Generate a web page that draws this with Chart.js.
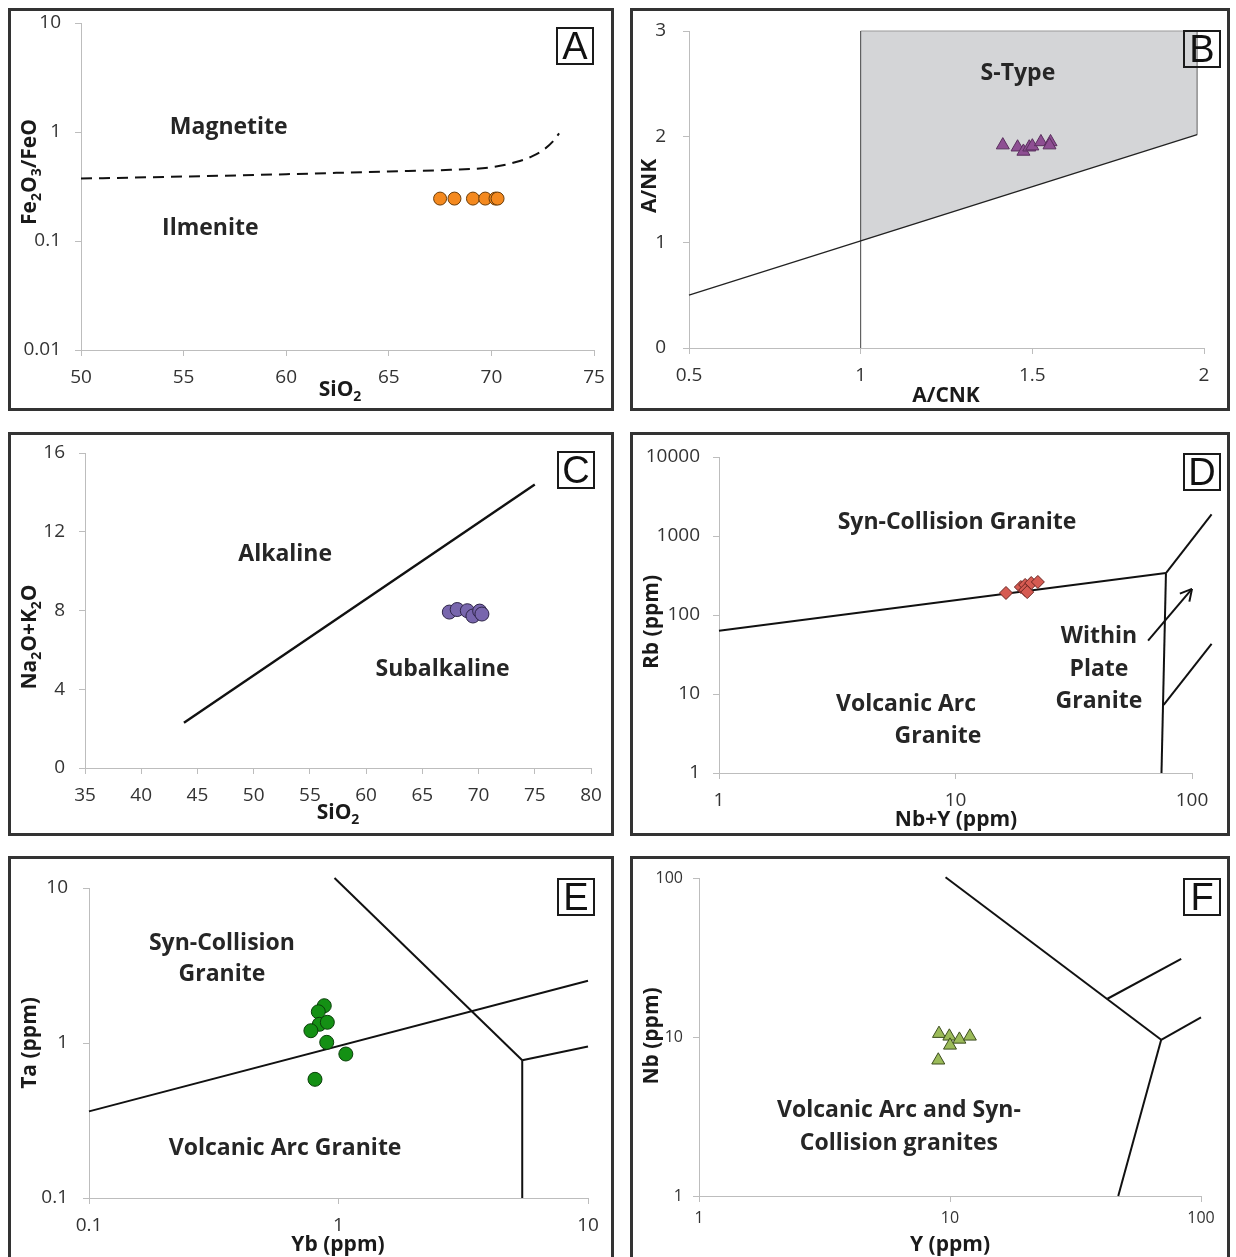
<!DOCTYPE html>
<html>
<head>
<meta charset="utf-8">
<script src="https://cdn.jsdelivr.net/npm/chart.js@4.4.1/dist/chart.umd.min.js"></script>
<style>
  body { margin: 0; background: #fff; width: 1236px; height: 1257px; overflow: hidden; position: relative; }
  .panel { position: absolute; border: 3px solid #333; box-sizing: border-box; }
  .panel canvas { position: absolute; left: 0; top: 0; }
  .tag { position: absolute; width: 38px; height: 38px; box-sizing: border-box; border: 2px solid #1a1a1a;
         font: 38px "Liberation Sans", sans-serif; line-height: 34px; text-align: center; color: #111; }
</style>
</head>
<body>
<div class="panel" style="left:8px;top:8px;width:606px;height:403px"><canvas id="chartA" width="600" height="397"></canvas><div class="tag" style="left:545px;top:16px">A</div></div>
<div class="panel" style="left:630px;top:8px;width:600px;height:403px"><canvas id="chartB" width="594" height="397"></canvas><div class="tag" style="left:550px;top:19px">B</div></div>
<div class="panel" style="left:8px;top:432px;width:606px;height:404px"><canvas id="chartC" width="600" height="398"></canvas><div class="tag" style="left:546px;top:16px">C</div></div>
<div class="panel" style="left:630px;top:432px;width:600px;height:404px"><canvas id="chartD" width="594" height="398"></canvas><div class="tag" style="left:550px;top:18px">D</div></div>
<div class="panel" style="left:8px;top:856px;width:606px;height:406px"><canvas id="chartE" width="600" height="400"></canvas><div class="tag" style="left:546px;top:19px">E</div></div>
<div class="panel" style="left:630px;top:856px;width:600px;height:406px"><canvas id="chartF" width="594" height="400"></canvas><div class="tag" style="left:550px;top:19px">F</div></div>

<script>
// A: Fe2O3/FeO vs SiO2
const aSio2 = [67.5, 68.2, 69.1, 69.7, 70.2, 70.3];
const aRatio = [0.245, 0.245, 0.245, 0.245, 0.245, 0.245];
const aCurveSio2 = [50, 55, 60, 65, 68, 70, 71.2, 72, 72.6, 73.0, 73.3];
const aCurveRatio = [0.374, 0.39, 0.41, 0.435, 0.45, 0.475, 0.53, 0.6, 0.7, 0.82, 0.97];
const aXTicks = [50, 55, 60, 65, 70, 75];
const aYTicks = [0.01, 0.1, 1, 10];

// B: A/NK vs A/CNK
const bAcnk = [1.414, 1.457, 1.474, 1.491, 1.50, 1.525, 1.553, 1.55];
const bAnk = [1.92, 1.90, 1.86, 1.90, 1.91, 1.95, 1.95, 1.92];
const bDiagX = [0.5, 1.98];
const bDiagY = [0.5, 2.02];
const bSplitX = [1, 1];
const bSplitY = [0, 3];
const bShadeX = [1, 1.98];
const bShadeY = [1.01, 2.02];
const bEdgeX = [1, 1.98, 1.98];
const bEdgeY = [3, 3, 2.02];
const bXTicks = [0.5, 1, 1.5, 2];
const bYTicks = [0, 1, 2, 3];

// C: Na2O+K2O vs SiO2
const cSio2 = [67.4, 68.1, 69.0, 69.5, 70.1, 70.3];
const cAlk = [7.92, 8.05, 7.99, 7.72, 7.97, 7.82];
const cLineX = [43.8, 75.0];
const cLineY = [2.3, 14.4];
const cXTicks = [35, 40, 45, 50, 55, 60, 65, 70, 75, 80];
const cYTicks = [0, 4, 8, 12, 16];

// D: Rb vs Nb+Y
const dNbY = [16.35, 18.9, 19.7, 20.9, 22.3, 19.7, 20.1];
const dRb = [190, 226, 240, 254, 262, 207, 195];
const dSynX = [1, 77.6];
const dSynY = [63, 339];
const dUpperX = [77.6, 121];
const dUpperY = [339, 1884];
const dWpgX = [77.6, 74.3];
const dWpgY = [339, 1];
const dLowerX = [75.9, 121];
const dLowerY = [7.26, 43];
const dArrowX = [65.2, 100];
const dArrowY = [47.3, 214];
const dXTicks = [1, 10, 100];
const dYTicks = [1, 10, 100, 1000, 10000];

// E: Ta vs Yb
const eYb = [0.877, 0.830, 0.838, 0.902, 0.775, 0.897, 1.07, 0.805];
const eTa = [1.74, 1.59, 1.32, 1.36, 1.20, 1.01, 0.849, 0.583];
const eMainX = [0.1, 10];
const eMainY = [0.362, 2.52];
const eDiagX = [0.964, 5.45];
const eDiagY = [11.6, 0.773];
const eDownX = [5.45, 5.45];
const eDownY = [0.773, 0.1];
const eRightX = [5.45, 10];
const eRightY = [0.773, 0.95];
const eXTicks = [0.1, 1, 10];
const eYTicks = [0.1, 1, 10];

// F: Nb vs Y
const fY = [9.04, 9.94, 10.9, 12.0, 10.0, 8.98];
const fNb = [10.5, 10.1, 9.66, 10.1, 8.86, 7.14];
const fDiagX = [9.6, 69.4];
const fDiagY = [101, 9.6];
const fBranchX = [42.4, 83.4];
const fBranchY = [17.4, 31];
const fRightX = [69.4, 100];
const fRightY = [9.6, 13.3];
const fDownX = [69.4, 46.8];
const fDownY = [9.6, 1];
const fXTicks = [1, 10, 100];
const fYTicks = [1, 10, 100];

const FONT = '"Open Sans", sans-serif';
const AXIS_GREY = '#bdbdbd';

function pts(xs, ys) { return xs.map((x, i) => ({ x: x, y: ys[i] })); }

function line(xs, ys, extra) {
  return Object.assign({ data: pts(xs, ys), showLine: true, pointRadius: 0, borderColor: '#111',
    borderWidth: 2, clip: false, order: 2 }, extra);
}

function marks(xs, ys, extra) {
  return Object.assign({ data: pts(xs, ys), showLine: false, pointRadius: 7, borderWidth: 1, order: 0 }, extra);
}

function axis(type, min, max, ticks, pad, size) {
  return {
    type: type, min: min, max: max,
    afterBuildTicks: s => { s.ticks = ticks.map(v => ({ value: v })); },
    ticks: { callback: v => String(v), color: '#333', font: { family: FONT, size: size || 19 },
             padding: pad, autoSkip: false, maxRotation: 0 },
    grid: { drawOnChartArea: false, drawTicks: true, tickLength: 6, color: AXIS_GREY },
    border: { color: AXIS_GREY }
  };
}

// region names written inside the diagrams
const regionText = {
  id: 'regionText',
  afterDatasetsDraw(chart, args, opts) {
    const { ctx, scales: { x, y } } = chart;
    ctx.save();
    ctx.font = 'bold 23px ' + FONT;
    ctx.fillStyle = '#262626';
    ctx.textAlign = 'center';
    ctx.textBaseline = 'middle';
    (opts.items || []).forEach(it => ctx.fillText(it.text, x.getPixelForValue(it.x), y.getPixelForValue(it.y)));
    ctx.restore();
  }
};

// axis titles with subscripts, "_2" = subscript 2
function drawSub(ctx, text, cx, cy) {
  const runs = [];
  for (let i = 0; i < text.length; i++) {
    const sub = text[i] === '_';
    const ch = sub ? text[++i] : text[i];
    const last = runs[runs.length - 1];
    if (last && last.sub === sub) last.s += ch; else runs.push({ s: ch, sub: sub });
  }
  const big = 'bold 21px ' + FONT, small = 'bold 14px ' + FONT;
  let w = 0;
  runs.forEach(r => { ctx.font = r.sub ? small : big; r.w = ctx.measureText(r.s).width; w += r.w; });
  let px = cx - w / 2;
  runs.forEach(r => { ctx.font = r.sub ? small : big; ctx.fillText(r.s, px, cy + (r.sub ? 7 : 0)); px += r.w; });
}

const axisTitles = {
  id: 'axisTitles',
  afterDraw(chart, args, opts) {
    const ctx = chart.ctx;
    ctx.save();
    ctx.fillStyle = '#1a1a1a';
    ctx.textBaseline = 'middle';
    ctx.textAlign = 'left';
    drawSub(ctx, opts.x.text, opts.x.at[0], opts.x.at[1]);
    ctx.translate(opts.y.at[0], opts.y.at[1]);
    ctx.rotate(-Math.PI / 2);
    drawSub(ctx, opts.y.text, 0, 0);
    ctx.restore();
  }
};

const arrowHeads = {
  id: 'arrowHeads',
  afterDatasetsDraw(chart) {
    const ctx = chart.ctx;
    chart.data.datasets.forEach((ds, i) => {
      if (!ds.arrowHead) return;
      const p = chart.getDatasetMeta(i).data;
      const a = p[p.length - 2], b = p[p.length - 1];
      const ang = Math.atan2(b.y - a.y, b.x - a.x);
      ctx.save();
      ctx.strokeStyle = ds.borderColor;
      ctx.lineWidth = ds.borderWidth;
      ctx.beginPath();
      [-0.5, 0.5].forEach(d => {
        ctx.moveTo(b.x, b.y);
        ctx.lineTo(b.x - 13 * Math.cos(ang + d), b.y - 13 * Math.sin(ang + d));
      });
      ctx.stroke();
      ctx.restore();
    });
  }
};

// page positions: canvas origin, plot area [l, t, r, b], title centres
const frames = {
  A: { canvas: [11, 11], area: [81, 23, 594, 350], xTitle: [340, 390], yTitle: [30, 172] },
  B: { canvas: [633, 11], area: [689, 31, 1204, 348], xTitle: [946, 396], yTitle: [650, 186] },
  C: { canvas: [11, 435], area: [85, 453, 591, 768], xTitle: [338, 813], yTitle: [30, 637] },
  D: { canvas: [633, 435], area: [719, 457, 1192, 773], xTitle: [956, 820], yTitle: [652, 622] },
  E: { canvas: [11, 859], area: [89, 888, 588, 1198], xTitle: [338, 1245], yTitle: [30, 1043] },
  F: { canvas: [633, 859], area: [699, 878, 1201, 1196], xTitle: [950, 1245], yTitle: [652, 1036] }
};

function makeChart(key, spec) {
  const f = frames[key];
  const canvas = document.getElementById('chart' + key);
  const [cl, ct] = f.canvas;
  const [l, t, r, b] = f.area;
  // fixed axis sizes so the plot area lands where the original has it
  spec.x.afterFit = s => { s.height = ct + canvas.height - b; s.paddingLeft = 0; s.paddingRight = 0; };
  spec.y.afterFit = s => { s.width = l - cl; s.paddingTop = 0; s.paddingBottom = 0; };
  return new Chart(canvas, {
    type: 'scatter',
    data: { datasets: spec.datasets },
    options: {
      responsive: false,
      animation: false,
      events: [],
      layout: { padding: { left: 0, top: t - ct, right: cl + canvas.width - r, bottom: 0 } },
      scales: { x: spec.x, y: spec.y },
      plugins: {
        legend: { display: false },
        tooltip: { enabled: false },
        regionText: { items: spec.labels },
        axisTitles: {
          x: { text: spec.xTitle, at: [f.xTitle[0] - cl, f.xTitle[1] - ct] },
          y: { text: spec.yTitle, at: [f.yTitle[0] - cl, f.yTitle[1] - ct] }
        }
      }
    },
    plugins: [regionText, axisTitles, arrowHeads]
  });
}

makeChart('A', {
  x: axis('linear', 50, 75, aXTicks, 10),
  y: axis('logarithmic', 0.01, 10, aYTicks, 14),
  xTitle: 'SiO_2', yTitle: 'Fe_2O_3/FeO',
  labels: [{ text: 'Magnetite', x: 57.2, y: 1.11 }, { text: 'Ilmenite', x: 56.3, y: 0.131 }],
  datasets: [
    marks(aSio2, aRatio, { backgroundColor: '#F4891F', borderColor: '#6b3d0a', pointRadius: 6.5 }),
    line(aCurveSio2, aCurveRatio, { borderDash: [11, 7], cubicInterpolationMode: 'monotone' })
  ]
});

makeChart('B', {
  x: axis('linear', 0.5, 2, bXTicks, 10),
  y: axis('linear', 0, 3, bYTicks, 17),
  xTitle: 'A/CNK', yTitle: 'A/NK',
  labels: [{ text: 'S-Type', x: 1.458, y: 2.60 }],
  datasets: [
    marks(bAcnk, bAnk, { backgroundColor: '#8E4F93', borderColor: '#5a2f5e', pointStyle: 'triangle', pointRadius: 7.5 }),
    line(bDiagX, bDiagY, { borderColor: '#222', borderWidth: 1.3 }),
    line(bSplitX, bSplitY, { borderColor: '#444', borderWidth: 1 }),
    line(bEdgeX, bEdgeY, { borderColor: '#999', borderWidth: 1 }),
    line(bShadeX, bShadeY, { borderWidth: 0, fill: 'end', backgroundColor: '#d4d5d7', order: 5 })
  ]
});

makeChart('C', {
  x: axis('linear', 35, 80, cXTicks, 10),
  y: axis('linear', 0, 16, cYTicks, 14),
  xTitle: 'SiO_2', yTitle: 'Na_2O+K_2O',
  labels: [{ text: 'Alkaline', x: 52.8, y: 10.87 }, { text: 'Subalkaline', x: 66.8, y: 5.03 }],
  datasets: [
    marks(cSio2, cAlk, { backgroundColor: '#7866AD', borderColor: '#2e2548' }),
    line(cLineX, cLineY, { borderWidth: 2.4 })
  ]
});

makeChart('D', {
  x: axis('logarithmic', 1, 100, dXTicks, 10),
  y: axis('logarithmic', 1, 10000, dYTicks, 13),
  xTitle: 'Nb+Y (ppm)', yTitle: 'Rb (ppm)',
  labels: [
    { text: 'Syn-Collision Granite', x: 10.15, y: 1503 },
    { text: 'Volcanic Arc', x: 6.18, y: 7.46 },
    { text: 'Granite', x: 8.43, y: 2.86 },
    { text: 'Within', x: 40.4, y: 54.2 },
    { text: 'Plate', x: 40.4, y: 20.7 },
    { text: 'Granite', x: 40.4, y: 8.15 }
  ],
  datasets: [
    marks(dNbY, dRb, { backgroundColor: '#D65B52', borderColor: '#6b2420', pointStyle: 'rectRot', pointRadius: 6.5 }),
    line(dSynX, dSynY),
    line(dUpperX, dUpperY),
    line(dWpgX, dWpgY),
    line(dLowerX, dLowerY),
    line(dArrowX, dArrowY, { arrowHead: true })
  ]
});

makeChart('E', {
  x: axis('logarithmic', 0.1, 10, eXTicks, 10),
  y: axis('logarithmic', 0.1, 10, eYTicks, 15),
  xTitle: 'Yb (ppm)', yTitle: 'Ta (ppm)',
  labels: [
    { text: 'Syn-Collision', x: 0.341, y: 4.41 },
    { text: 'Granite', x: 0.341, y: 2.75 },
    { text: 'Volcanic Arc Granite', x: 0.611, y: 0.21 }
  ],
  datasets: [
    marks(eYb, eTa, { backgroundColor: '#149014', borderColor: '#0a3f0a' }),
    line(eMainX, eMainY),
    line(eDiagX, eDiagY),
    line(eDownX, eDownY),
    line(eRightX, eRightY)
  ]
});

makeChart('F', {
  x: axis('logarithmic', 1, 100, fXTicks, 7, 16),
  y: axis('logarithmic', 1, 100, fYTicks, 10, 16),
  xTitle: 'Y (ppm)', yTitle: 'Nb (ppm)',
  labels: [
    { text: 'Volcanic Arc and Syn-', x: 6.26, y: 3.47 },
    { text: 'Collision granites', x: 6.26, y: 2.15 }
  ],
  datasets: [
    marks(fY, fNb, { backgroundColor: '#9BBB59', borderColor: '#3c4d1e', pointStyle: 'triangle', pointRadius: 7.5 }),
    line(fDiagX, fDiagY),
    line(fBranchX, fBranchY),
    line(fRightX, fRightY),
    line(fDownX, fDownY)
  ]
});
</script>
</body>
</html>
